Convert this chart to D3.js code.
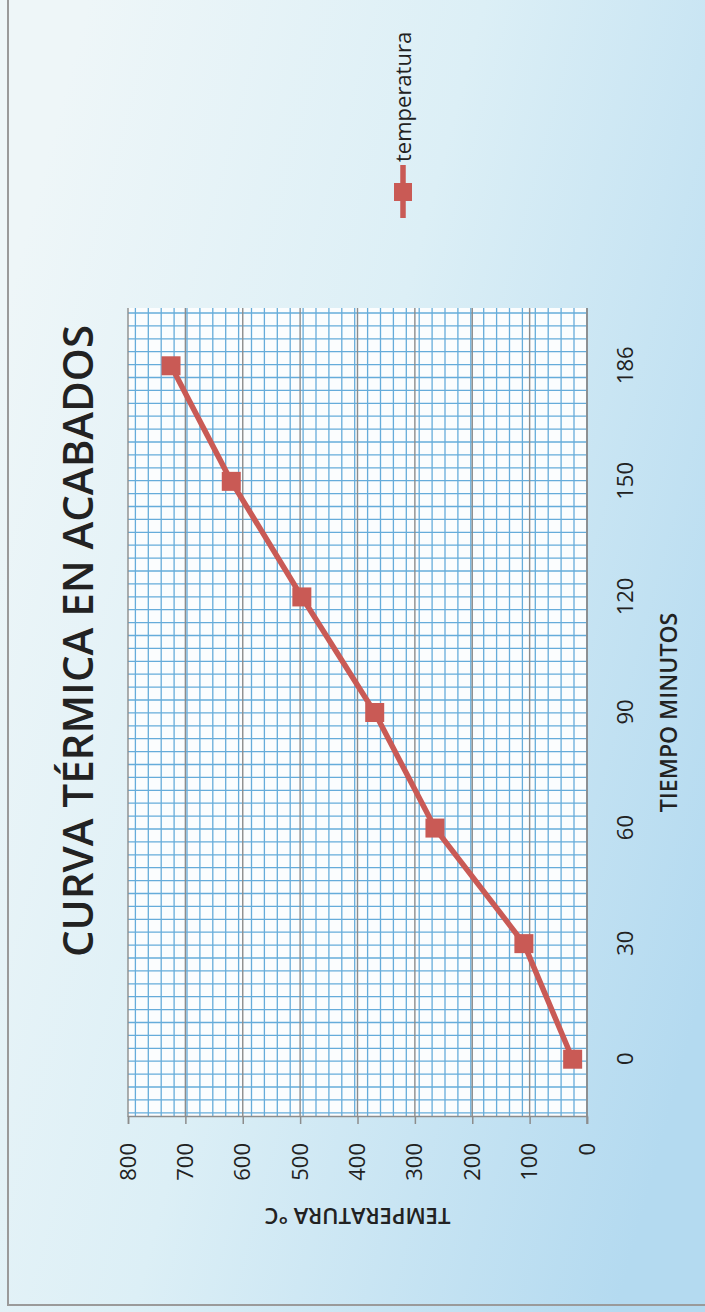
<!DOCTYPE html>
<html><head><meta charset="utf-8">
<script src="https://cdn.jsdelivr.net/npm/d3@7"></script>
<style>html,body{margin:0;padding:0;background:#fff;}svg{display:block;}</style>
</head><body>
<svg id="chart" width="705" height="1312"></svg>
<script>
// ---- data ----
const categories = ["0", "30", "60", "90", "120", "150", "186"];
const temperatures = [25, 110, 265, 370, 497, 620, 725];
const tempTicks = [0, 100, 200, 300, 400, 500, 600, 700, 800];
const seriesName = "temperatura";
const titleText = "CURVA TÉRMICA EN ACABADOS";
const xTitle = "TIEMPO MINUTOS";
const yTitle = "TEMPERATURA °C";

const svg = d3.select("#chart");
const font = "'Open Sans', 'Liberation Sans', sans-serif";
const red = "#c95a55";

// background gradient (screen coords)
const defs = svg.append("defs");
const g0 = defs.append("linearGradient").attr("id", "bg")
  .attr("x1", "0").attr("y1", "0.25").attr("x2", "1").attr("y2", "0.75");
g0.append("stop").attr("offset", "0").attr("stop-color", "#eef6f8");
g0.append("stop").attr("offset", "0.45").attr("stop-color", "#dceff6");
g0.append("stop").attr("offset", "1").attr("stop-color", "#b4daf0");
svg.append("rect").attr("width", 705).attr("height", 1312).attr("fill", "url(#bg)");
// border (left & bottom visible)
svg.append("path").attr("d", "M8,0 V1305 H705").attr("fill", "none")
  .attr("stroke", "#9a9a9a").attr("stroke-width", 2);

// rotated group: unrotated (x',y') -> screen (y', 1312 - x')
const g = svg.append("g").attr("transform", "translate(0,1312) rotate(-90)");

const plot = {left: 195, right: 1004, top: 128, bottom: 587};
const x = d3.scalePoint().domain(categories).range([plot.left, plot.right]).padding(0.5);
const y = d3.scaleLinear().domain([0, 800]).range([plot.bottom, plot.top]);

// plot area
g.append("rect").attr("x", plot.left).attr("y", plot.top)
  .attr("width", plot.right - plot.left).attr("height", plot.bottom - plot.top)
  .attr("fill", "#fbfdfe");

// graph-paper grid
const step = 12.9;
const gy = d3.range(135.4, plot.bottom, step);
const gx = d3.range(999, plot.left, -step);
g.append("g").selectAll("line").data(gy).join("line")
  .attr("x1", plot.left).attr("x2", plot.right).attr("y1", d => d).attr("y2", d => d)
  .attr("stroke", "#66acda").attr("stroke-width", 1.3);
g.append("g").selectAll("line").data(gx).join("line")
  .attr("y1", plot.top).attr("y2", plot.bottom).attr("x1", d => d).attr("x2", d => d)
  .attr("stroke", "#66acda").attr("stroke-width", 1.3);

// major gridlines
g.append("g").selectAll("line").data(tempTicks).join("line")
  .attr("x1", plot.left).attr("x2", plot.right).attr("y1", d => y(d)).attr("y2", d => y(d))
  .attr("stroke", "#8c8c8c").attr("stroke-width", 1.4);

// axes
const yAxis = g.append("g").attr("transform", `translate(${plot.left},0)`)
  .call(d3.axisLeft(y).tickValues(tempTicks).tickSize(7).tickPadding(19));
const xAxis = g.append("g").attr("transform", `translate(0,${plot.bottom})`)
  .call(d3.axisBottom(x).tickSize(0).tickPadding(30));
[yAxis, xAxis].forEach(a => {
  a.select(".domain").attr("stroke", "#8c8c8c").attr("stroke-width", 1.5);
  a.selectAll(".tick line").attr("stroke", "#8c8c8c").attr("stroke-width", 1.5);
  a.selectAll("text").attr("font-family", font).attr("font-size", 22).attr("fill", "#222");
});
xAxis.select(".domain").attr("d", `M${plot.left},0H${plot.right}`);
g.append("line").attr("x1", plot.left).attr("x2", plot.left - 7)
  .attr("y1", plot.bottom).attr("y2", plot.bottom).attr("stroke", "#8c8c8c").attr("stroke-width", 1.5);

// series line
const line = d3.line().x((d, i) => x(categories[i])).y(d => y(d));
g.append("path").datum(temperatures).attr("d", line)
  .attr("fill", "none").attr("stroke", red).attr("stroke-width", 5.5).attr("stroke-linejoin", "round");
const ms = 19;
g.append("g").selectAll("rect").data(temperatures).join("rect")
  .attr("x", (d, i) => x(categories[i]) - ms / 2).attr("y", d => y(d) - ms / 2)
  .attr("width", ms).attr("height", ms).attr("fill", red);

// title
g.append("text").attr("x", 671).attr("y", 93).attr("text-anchor", "middle")
  .attr("font-family", font).attr("font-weight", 600).attr("font-size", 42)
  .attr("fill", "#222").text(titleText);

// axis titles
g.append("text").attr("x", (plot.left + plot.right) / 2).attr("y", 677).attr("text-anchor", "middle")
  .attr("font-family", font).attr("font-weight", 600).attr("font-size", 23)
  .attr("fill", "#222").text(xTitle);
g.append("text").attr("transform", `translate(104,${(plot.top + plot.bottom) / 2}) rotate(-90)`)
  .attr("text-anchor", "middle")
  .attr("font-family", font).attr("font-weight", 600).attr("font-size", 22)
  .attr("fill", "#222").text(yTitle);

// legend
const lg = g.append("g");
lg.append("line").attr("x1", 1094).attr("x2", 1147).attr("y1", 403).attr("y2", 403)
  .attr("stroke", red).attr("stroke-width", 5.5);
lg.append("rect").attr("x", 1120 - 9).attr("y", 403 - 9).attr("width", 18).attr("height", 18).attr("fill", red);
lg.append("text").attr("x", 1150).attr("y", 411).attr("font-family", font).attr("font-size", 22)
  .attr("fill", "#222").text(seriesName);
</script>
</body></html>
